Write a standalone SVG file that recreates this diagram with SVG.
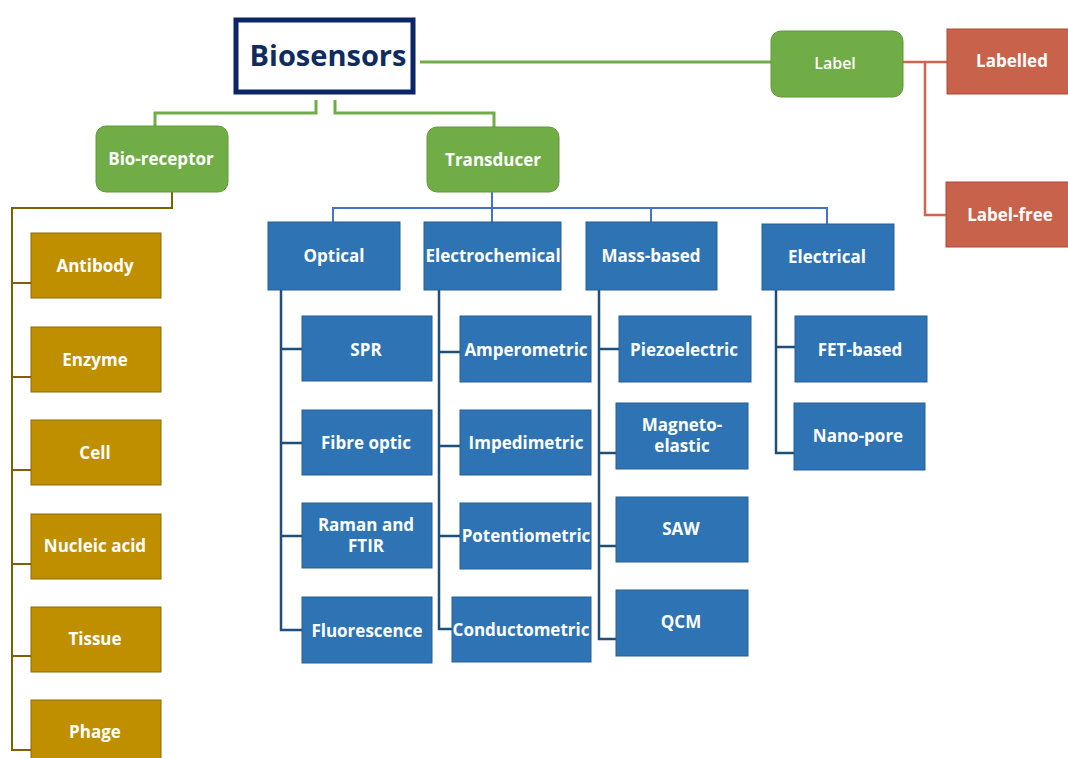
<svg xmlns="http://www.w3.org/2000/svg" width="1068" height="758" viewBox="0 0 1068 758">
<style>
text{font-family:"Open Sans","Liberation Sans",sans-serif;font-weight:bold;fill:#fff;text-anchor:middle;dominant-baseline:central;font-size:17px}
.g{fill:#70ad47;stroke:#5e9a3a;stroke-width:1}
.r{fill:#c9624b;stroke:#a84a36;stroke-width:1}
.y{fill:#bf8f00;stroke:#8d6a05;stroke-width:1}
.b{fill:#2e74b5;stroke:#285f92;stroke-width:1}
.cg{fill:none;stroke:#70ad47;stroke-width:3}
.cr{fill:none;stroke:#d0654f;stroke-width:2.5}
.cy{fill:none;stroke:#7f6000;stroke-width:2}
.cb{fill:none;stroke:#4472c4;stroke-width:2}
.cn{fill:none;stroke:#1f4e79;stroke-width:2.5}
</style>
<rect width="1068" height="758" fill="#fff"/>
<g id="connectors">
<path class="cg" d="M420 62H771"/>
<path class="cg" d="M316 100V113H155V126"/>
<path class="cg" d="M335 100V113H494V127"/>
<path class="cr" d="M903 62H947M925 62V215H947"/>
<path class="cy" d="M172 192V208H12V750H31M12 283H31M12 377H31M12 470H31M12 564H31M12 656H31"/>
<path class="cb" d="M492 192V222M333 222V208H827V224M651 208V222"/>
<path class="cn" d="M281 290V630H302M281 349H302M281 443H302M281 536H302"/>
<path class="cn" d="M439 290V629H452M439 352H460M439 446H460M439 536H460"/>
<path class="cn" d="M599 290V639H616M599 349H619M599 453H616M599 546H616"/>
<path class="cn" d="M776 290V453H794M776 347H795"/>
</g>
<g id="biosensors"><rect x="236" y="20" width="177" height="72" fill="#fff" stroke="#0b2566" stroke-width="5"/><text x="328" y="54" style="fill:#0f2b5f;font-size:29px">Biosensors</text></g>
<g id="label"><rect class="g" x="771" y="31" width="132" height="66" rx="10"/><text x="835" y="63" style="font-size:16px;font-weight:600">Label</text></g>
<g id="labelled"><rect class="r" x="947" y="29" width="130" height="65"/><text x="1012" y="60">Labelled</text></g>
<g id="label-free"><rect class="r" x="946" y="182" width="130" height="65"/><text x="1010" y="214">Label-free</text></g>
<g id="bio-receptor"><rect class="g" x="96" y="126" width="132" height="66" rx="10"/><text x="161" y="158">Bio-receptor</text></g>
<g id="transducer"><rect class="g" x="427" y="127" width="132" height="65" rx="10"/><text x="493" y="159">Transducer</text></g>
<g id="antibody"><rect class="y" x="31" y="233" width="130" height="65"/><text x="95" y="265">Antibody</text></g>
<g id="enzyme"><rect class="y" x="31" y="327" width="130" height="65"/><text x="95" y="359">Enzyme</text></g>
<g id="cell"><rect class="y" x="31" y="420" width="130" height="65"/><text x="95" y="452">Cell</text></g>
<g id="nucleic-acid"><rect class="y" x="31" y="514" width="130" height="65"/><text x="95" y="545">Nucleic acid</text></g>
<g id="tissue"><rect class="y" x="31" y="607" width="130" height="65"/><text x="95" y="638">Tissue</text></g>
<g id="phage"><rect class="y" x="31" y="700" width="130" height="65"/><text x="95" y="731">Phage</text></g>
<g id="optical"><rect class="b" x="268" y="222" width="132" height="68"/><text x="334" y="255">Optical</text></g>
<g id="electrochemical"><rect class="b" x="424" y="222" width="137" height="68"/><text x="493" y="255">Electrochemical</text></g>
<g id="mass-based"><rect class="b" x="586" y="222" width="131" height="68"/><text x="651" y="255">Mass-based</text></g>
<g id="electrical"><rect class="b" x="762" y="224" width="132" height="66"/><text x="827" y="256">Electrical</text></g>
<g id="spr"><rect class="b" x="302" y="316" width="130" height="65"/><text x="366" y="349">SPR</text></g>
<g id="fibre-optic"><rect class="b" x="302" y="410" width="130" height="65"/><text x="366" y="442">Fibre optic</text></g>
<g id="raman"><rect class="b" x="302" y="503" width="130" height="65"/><text x="366" y="524">Raman and</text><text x="366" y="545">FTIR</text></g>
<g id="fluorescence"><rect class="b" x="302" y="597" width="130" height="66"/><text x="367" y="630">Fluorescence</text></g>
<g id="amperometric"><rect class="b" x="460" y="316" width="131" height="66"/><text x="526" y="349">Amperometric</text></g>
<g id="impedimetric"><rect class="b" x="460" y="410" width="131" height="65"/><text x="526" y="442">Impedimetric</text></g>
<g id="potentiometric"><rect class="b" x="460" y="503" width="131" height="66"/><text x="526" y="535">Potentiometric</text></g>
<g id="conductometric"><rect class="b" x="452" y="597" width="139" height="65"/><text x="521" y="629">Conductometric</text></g>
<g id="piezoelectric"><rect class="b" x="619" y="316" width="132" height="66"/><text x="684" y="349">Piezoelectric</text></g>
<g id="magneto-elastic"><rect class="b" x="616" y="403" width="132" height="66"/><text x="682" y="424">Magneto-</text><text x="682" y="445">elastic</text></g>
<g id="saw"><rect class="b" x="616" y="497" width="132" height="65"/><text x="681" y="528">SAW</text></g>
<g id="qcm"><rect class="b" x="616" y="590" width="132" height="66"/><text x="681" y="621">QCM</text></g>
<g id="fet-based"><rect class="b" x="795" y="316" width="132" height="66"/><text x="860" y="349">FET-based</text></g>
<g id="nano-pore"><rect class="b" x="794" y="403" width="131" height="67"/><text x="858" y="435">Nano-pore</text></g>
</svg>
